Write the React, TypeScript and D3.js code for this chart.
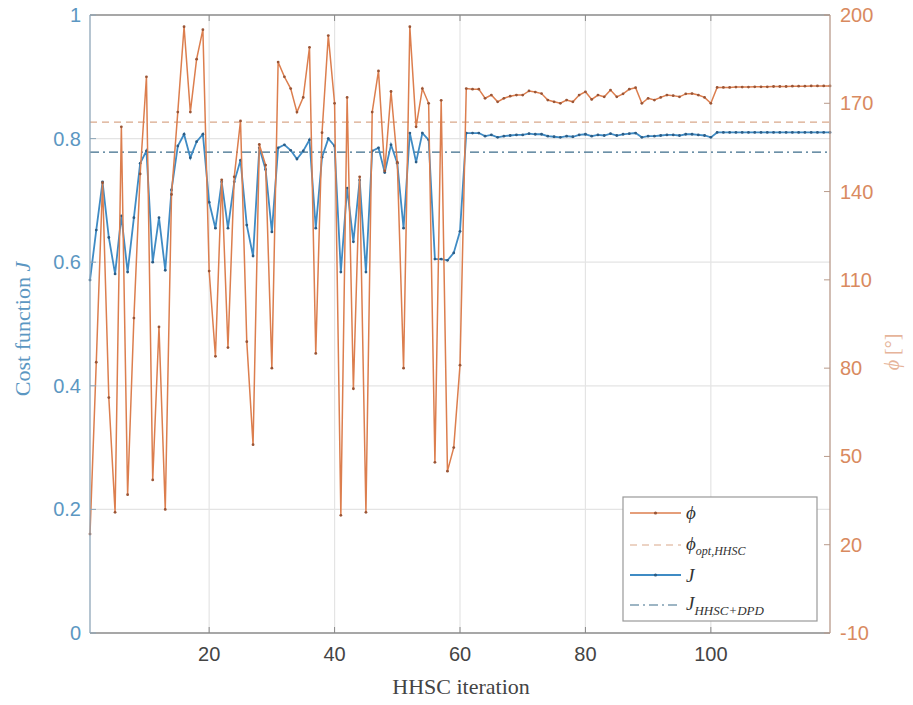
import React from 'react';
import * as d3 from 'd3';

// HHSC iteration values (iteration = index + 1)
const phiValues: number[] = [
  23.6, 82, 143, 70, 31, 162, 37, 97, 146, 179,
  42, 94, 32, 139, 167, 196, 167, 185, 195, 113,
  84, 144, 87, 145, 164, 89, 54, 156, 149, 80,
  184, 179, 175, 167, 172, 189, 85, 160, 193, 170,
  30, 172, 73, 145, 31, 167, 181, 147, 174, 150,
  80, 196, 162, 175, 170, 48, 171, 45, 53, 81,
  175, 174.8, 174.8, 171.7, 172.8, 170.5, 171.7, 172.4, 172.8, 172.8,
  174.2, 173.8, 173.3, 171.1, 170.5, 170, 171.1, 170.5, 172.8, 173.9,
  171.3, 172.8, 172.2, 174.5, 172.2, 173.2, 174.8, 175.3, 170, 171.7,
  171.1, 172, 172.8, 172.6, 172.2, 173.2, 173.3, 172.8, 172, 170,
  175.4, 175.4, 175.4, 175.5, 175.5, 175.5, 175.6, 175.6, 175.6, 175.7,
  175.7, 175.7, 175.8, 175.8, 175.8, 175.9, 175.9, 175.9, 175.9,
];

const jValues: number[] = [
  0.571, 0.652, 0.73, 0.64, 0.581, 0.675, 0.584, 0.672, 0.76, 0.78,
  0.6, 0.672, 0.587, 0.717, 0.788, 0.807, 0.769, 0.795, 0.807, 0.697,
  0.655, 0.73, 0.655, 0.73, 0.765, 0.66, 0.61, 0.785, 0.75, 0.649,
  0.785, 0.79, 0.781, 0.767, 0.78, 0.798, 0.655, 0.77, 0.8, 0.788,
  0.584, 0.72, 0.633, 0.733, 0.584, 0.78, 0.785, 0.745, 0.79, 0.76,
  0.655, 0.809, 0.762, 0.809, 0.798, 0.605, 0.605, 0.603, 0.615, 0.65,
  0.809, 0.809, 0.809, 0.804, 0.806, 0.802, 0.804, 0.805, 0.806, 0.806,
  0.808, 0.807, 0.807, 0.804, 0.803, 0.802, 0.804, 0.803, 0.806, 0.807,
  0.804, 0.806, 0.805, 0.808, 0.805, 0.807, 0.808, 0.809, 0.802, 0.804,
  0.804, 0.805, 0.806, 0.806, 0.805, 0.807, 0.807, 0.806, 0.805, 0.802,
  0.81, 0.81, 0.81, 0.81, 0.81, 0.81, 0.81, 0.81, 0.81, 0.81,
  0.81, 0.81, 0.81, 0.81, 0.81, 0.81, 0.81, 0.81, 0.81,
];

const phiOptHHSC = 163.6;
const jHHSCDPD = 0.778;

const xTicks = [20, 40, 60, 80, 100];
const leftTicks = [0, 0.2, 0.4, 0.6, 0.8, 1];
const leftTickLabels = ['0', '0.2', '0.4', '0.6', '0.8', '1'];
const rightTicks = [-10, 20, 50, 80, 110, 140, 170, 200];

const W = 913;
const H = 705;
const L = 90, R = 830, T = 15, B = 633;

const phiColor = '#DC7E4E';
const phiMarker = '#9A5536';
const jColor = '#3F8BC4';
const jMarker = '#2B5C85';
const axisGrey = '#8a8a8a';
const gridColor = '#e4e4e4';
const tickFont = "'Liberation Sans', Arial, sans-serif";
const serif = "'Liberation Serif', 'DejaVu Serif', serif";

export default function App() {
  const x = d3.scaleLinear().domain([1, 119]).range([L, R]);
  const yL = d3.scaleLinear().domain([0, 1]).range([B, T]);
  const yR = d3.scaleLinear().domain([-10, 200]).range([B, T]);

  const phiData = phiValues.map((v, i) => [i + 1, v] as [number, number]);
  const jData = jValues.map((v, i) => [i + 1, v] as [number, number]);

  const phiLine = d3.line<[number, number]>().x(d => x(d[0])).y(d => yR(d[1]));
  const jLine = d3.line<[number, number]>().x(d => x(d[0])).y(d => yL(d[1]));

  const lx0 = 630, lx1 = 681, ltx = 686;
  const legendRows = [513, 545, 575, 605];

  return (
    <svg width={W} height={H} style={{ position: 'absolute', left: 0, top: 0, background: '#fff' }}>
      <rect x={0} y={0} width={W} height={H} fill="#fff" />
      {/* grid */}
      {xTicks.map(t => (
        <line key={'gx' + t} x1={x(t)} x2={x(t)} y1={T} y2={B} stroke={gridColor} strokeWidth={1.2} />
      ))}
      {leftTicks.slice(1, -1).map(t => (
        <line key={'gy' + t} x1={L} x2={R} y1={yL(t)} y2={yL(t)} stroke={gridColor} strokeWidth={1.2} />
      ))}

      {/* reference lines */}
      <line x1={L} x2={R} y1={yR(phiOptHHSC)} y2={yR(phiOptHHSC)} stroke="#D9A88A" strokeWidth={1.2} strokeDasharray="7,5" />
      <line x1={L} x2={R} y1={yL(jHHSCDPD)} y2={yL(jHHSCDPD)} stroke="#3C6C8A" strokeWidth={1.2} strokeDasharray="9,4,2,4" />

      {/* J series */}
      <path d={jLine(jData) || ''} fill="none" stroke={jColor} strokeWidth={1.8} />
      {jData.map(d => (
        <circle key={'jm' + d[0]} cx={x(d[0])} cy={yL(d[1])} r={1.4} fill={jMarker} />
      ))}

      {/* phi series */}
      <path d={phiLine(phiData) || ''} fill="none" stroke={phiColor} strokeWidth={1.5} />
      {phiData.map(d => (
        <circle key={'pm' + d[0]} cx={x(d[0])} cy={yR(d[1])} r={1.4} fill={phiMarker} />
      ))}

      {/* axes box */}
      <line x1={L} x2={R} y1={T} y2={T} stroke={axisGrey} strokeWidth={1.3} />
      <line x1={L} x2={R} y1={B} y2={B} stroke={axisGrey} strokeWidth={1.3} />
      <line x1={L} x2={L} y1={T} y2={B} stroke="#8ea6b8" strokeWidth={1.3} />
      <line x1={R} x2={R} y1={T} y2={B} stroke="#b89a8a" strokeWidth={1.3} />

      {/* x ticks */}
      {xTicks.map(t => (
        <g key={'xt' + t}>
          <line x1={x(t)} x2={x(t)} y1={B} y2={B - 6} stroke={axisGrey} />
          <line x1={x(t)} x2={x(t)} y1={T} y2={T + 6} stroke={axisGrey} />
          <text x={x(t)} y={B + 28} textAnchor="middle" fontFamily={tickFont} fontSize={20} fill="#444">{t}</text>
        </g>
      ))}

      {/* left ticks */}
      {leftTicks.map((t, i) => (
        <g key={'lt' + t}>
          <line x1={L} x2={L + 6} y1={yL(t)} y2={yL(t)} stroke="#8ea6b8" />
          <text x={L - 9} y={yL(t) + 7} textAnchor="end" fontFamily={tickFont} fontSize={20} fill="#5C97C2">{leftTickLabels[i]}</text>
        </g>
      ))}

      {/* right ticks */}
      {rightTicks.map(t => (
        <g key={'rt' + t}>
          <line x1={R - 6} x2={R} y1={yR(t)} y2={yR(t)} stroke="#b89a8a" />
          <text x={R + 10} y={yR(t) + 7} textAnchor="start" fontFamily={tickFont} fontSize={20} fill="#D98A60">{t}</text>
        </g>
      ))}

      {/* axis labels */}
      <text x={461} y={694} textAnchor="middle" fontFamily={serif} fontSize={22} fill="#444">HHSC iteration</text>
      <text transform={`translate(30, ${(T + B) / 2 + 5}) rotate(-90)`} textAnchor="middle" fontFamily={serif} fontSize={22} fill="#5C97C2">
        Cost function <tspan fontStyle="italic">J</tspan>
      </text>
      <text transform={`translate(899, ${(T + B) / 2 + 28}) rotate(-90)`} textAnchor="middle" fontFamily={serif} fontSize={20} fill="#E6B49A">
        <tspan fontStyle="italic">ϕ</tspan> [°]
      </text>

      {/* legend */}
      <rect x={623} y={497} width={194} height={124} fill="#fff" stroke="#999" strokeWidth={1.2} />
      <line x1={lx0} x2={lx1} y1={legendRows[0]} y2={legendRows[0]} stroke={phiColor} strokeWidth={1.5} />
      <circle cx={(lx0 + lx1) / 2} cy={legendRows[0]} r={1.6} fill={phiMarker} />
      <text x={ltx} y={legendRows[0] + 6} fontFamily={serif} fontSize={19} fontStyle="italic" fill="#333">ϕ</text>

      <line x1={lx0} x2={lx1} y1={legendRows[1]} y2={legendRows[1]} stroke="#D9A88A" strokeWidth={1.2} strokeDasharray="7,5" />
      <text x={ltx} y={legendRows[1] + 5} fontFamily={serif} fontSize={19} fontStyle="italic" fill="#333">
        ϕ<tspan fontSize={12} dy={5}>opt,HHSC</tspan>
      </text>

      <line x1={lx0} x2={lx1} y1={legendRows[2]} y2={legendRows[2]} stroke={jColor} strokeWidth={1.8} />
      <circle cx={(lx0 + lx1) / 2} cy={legendRows[2]} r={1.6} fill={jMarker} />
      <text x={ltx} y={legendRows[2] + 7} fontFamily={serif} fontSize={19} fontStyle="italic" fill="#333">J</text>

      <line x1={lx0} x2={lx1} y1={legendRows[3]} y2={legendRows[3]} stroke="#3C6C8A" strokeWidth={1.2} strokeDasharray="9,4,2,4" />
      <text x={ltx} y={legendRows[3] + 5} fontFamily={serif} fontSize={19} fontStyle="italic" fill="#333">
        J<tspan fontSize={13} dy={5}>HHSC+DPD</tspan>
      </text>
    </svg>
  );
}
